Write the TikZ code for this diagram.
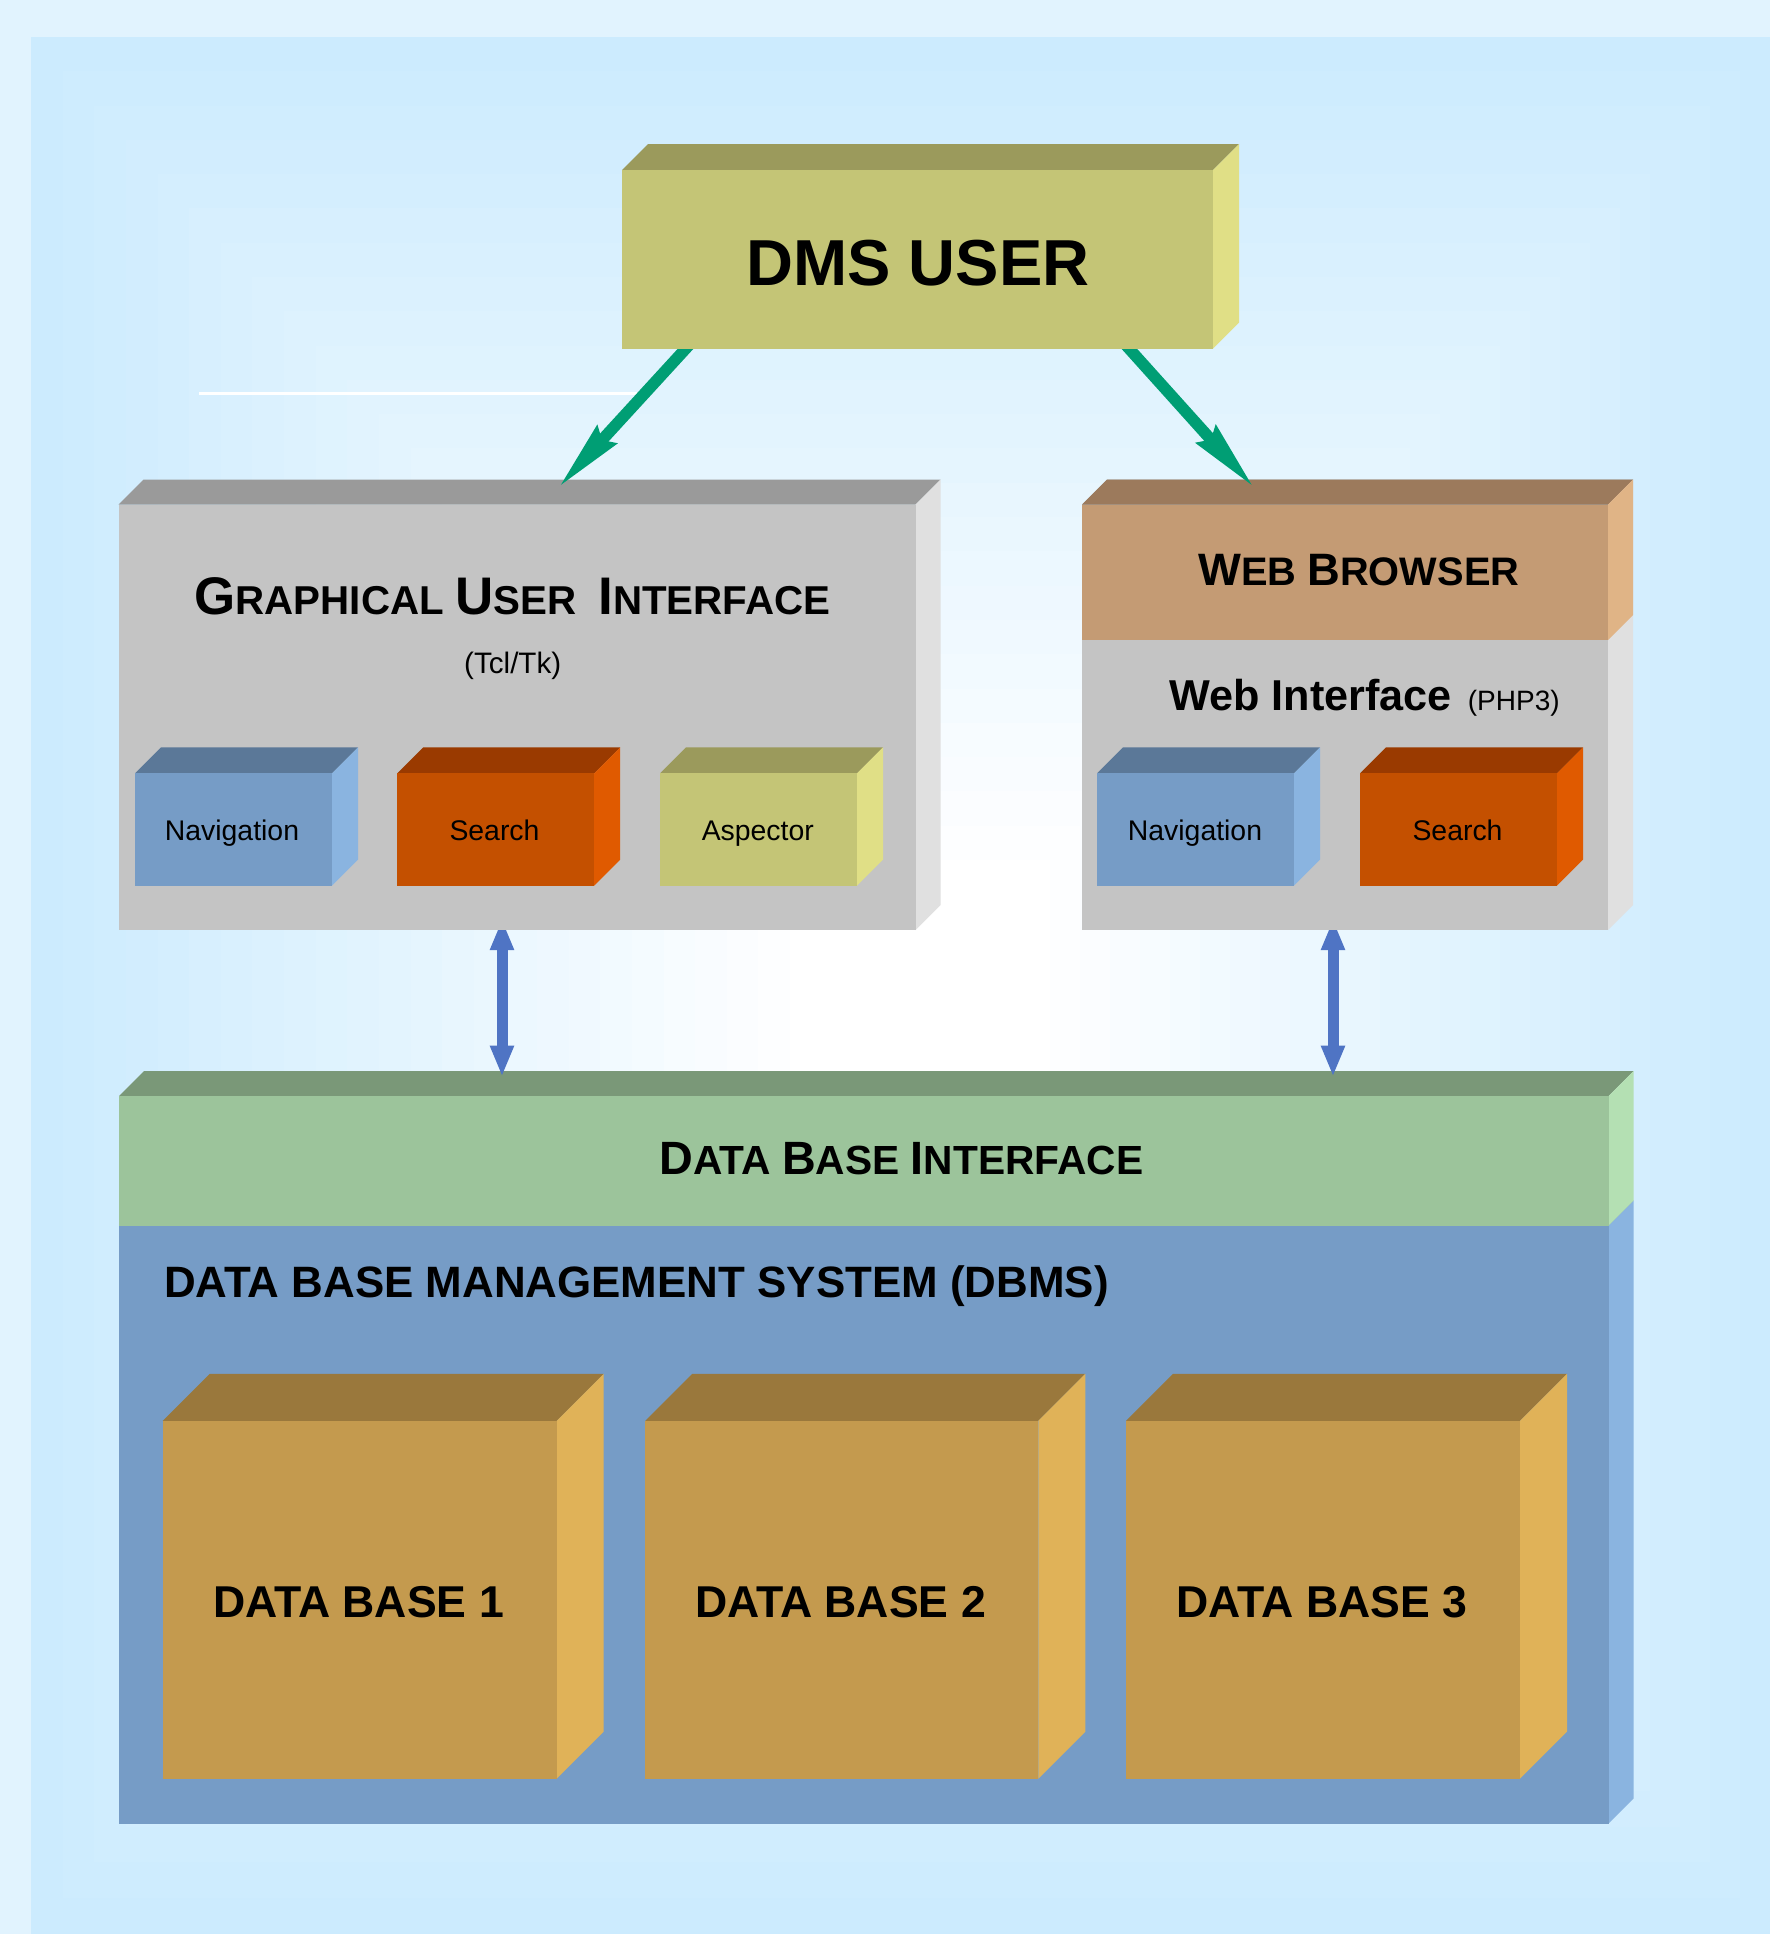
\documentclass[tikz,border=0pt]{standalone}
\usepackage{fontspec}
\setmainfont{Liberation Sans}
\usetikzlibrary{arrows.meta,fit,calc}

% background
\definecolor{bgout}{HTML}{E1F3FE}
\definecolor{bgin}{HTML}{CCEBFE}
% face colours: front / top / side
\definecolor{oliveF}{HTML}{C4C576}\definecolor{oliveT}{HTML}{9B9A5C}\definecolor{oliveS}{HTML}{E0DF86}
\definecolor{greyF}{HTML}{C4C4C4}\definecolor{greyT}{HTML}{9A9A9A}\definecolor{greyS}{HTML}{E0E0E0}
\definecolor{tanF}{HTML}{C49B74}\definecolor{tanT}{HTML}{9C7A5C}\definecolor{tanS}{HTML}{E0B486}
\definecolor{navF}{HTML}{769CC6}\definecolor{navT}{HTML}{5B7898}\definecolor{navS}{HTML}{8AB4E0}
\definecolor{orgF}{HTML}{C45000}\definecolor{orgT}{HTML}{9A3A00}\definecolor{orgS}{HTML}{E05A00}
\definecolor{grnF}{HTML}{9CC49B}\definecolor{grnT}{HTML}{7A9878}\definecolor{grnS}{HTML}{B4E0B3}
\definecolor{dbF}{HTML}{C49A4E}\definecolor{dbT}{HTML}{9A783C}\definecolor{dbS}{HTML}{E0B258}
% connectors
\definecolor{arrgreen}{HTML}{009E74}
\definecolor{arrblue}{HTML}{4F74C4}

\newcommand\fsz[1]{\fontsize{#1}{#1}\selectfont}

% \cuboid{name}{x1}{y1}{x2}{y2}{depth}{front}{top}{side}
\newcommand\cuboid[9]{%
  \fill[#8] (#2,#3) -- ({#2+#6},{#3-#6}) -- ({#4+#6},{#3-#6}) -- (#4,#3) -- cycle;
  \fill[#9] (#4,#3) -- ({#4+#6},{#3-#6}) -- ({#4+#6},{#5-#6}) -- (#4,#5) -- cycle;
  \node[fit={(#2,#3) (#4,#5)}, inner sep=0pt, outer sep=0pt, fill=#7] (#1) {};
}

\begin{document}
\begin{tikzpicture}[x=0.5pt,y=-0.5pt,
  lbl/.style={anchor=base, inner sep=0pt, text=black},
  garrow/.style={draw=arrgreen, line width=5.8pt,
    -{Stealth[length=35pt,width=12.5pt,inset=3pt]}},
  barrow/.style={draw=arrblue, line width=5.5pt,
    {Triangle[length=15.5pt,width=11pt]}-{Triangle[length=15.5pt,width=11pt]}}]

\useasboundingbox (0,0) rectangle (1770,1934);

% ---- background: pale frame and a rectangular glow towards the middle
\fill[bgout] (0,0) rectangle (1770,1934);
\foreach \i in {0,...,24}{
  \pgfmathsetmacro\p{100*\i/24}
  \pgfmathsetmacro\lx{31+31.625*\i}
  \pgfmathsetmacro\ty{37+34.29*\i}
  \pgfmathsetmacro\rx{1770-30*\i}
  \pgfmathsetmacro\by{1934-35.79*\i}
  \fill[white!\p!bgin] (\lx,\ty) rectangle (\rx,\by);
}

% thin white rule
\coordinate (rulea) at (199,393.3);
\coordinate (ruleb) at (645,393.3);
\draw[white, line width=1.5pt] (rulea) -- (ruleb);

% ---- data base layer
\cuboid{dbms}{119}{1225.7}{1608.5}{1823.7}{25}{navF}{navT}{navS}
\cuboid{dbi}{119}{1096}{1608.5}{1225.7}{25}{grnF}{grnT}{grnS}
\node[lbl] (dbilabel) at (901.4,1174.5)
  {\bfseries\fsz{23.35pt}D\fsz{20.35pt}ATA \fsz{23.35pt}B\fsz{20.35pt}ASE \fsz{23.35pt}I\fsz{20.35pt}NTERFACE};
\node[lbl, anchor=base west] (dbmslabel) at (163.7,1297)
  {\bfseries\fsz{21.95pt}DATA BASE MANAGEMENT SYSTEM (DBMS)};

\cuboid{dba}{162.7}{1420.8}{556.7}{1778.7}{47}{dbF}{dbT}{dbS}
\cuboid{dbb}{645.3}{1420.8}{1038.3}{1778.7}{47}{dbF}{dbT}{dbS}
\cuboid{dbc}{1126}{1420.8}{1520}{1778.7}{47}{dbF}{dbT}{dbS}
\node[lbl] (dbalabel) at (358.5,1617) {\bfseries\fsz{22.3pt}DATA BASE 1};
\node[lbl] (dbblabel) at (840.5,1617) {\bfseries\fsz{22.3pt}DATA BASE 2};
\node[lbl] (dbclabel) at (1322,1617) {\bfseries\fsz{22.3pt}DATA BASE 3};

% ---- front-end anchors for the two-way links (the boxes are drawn on top)
\coordinate (guibot) at (517,930);
\coordinate (webbot) at (1345,930);
\draw[barrow] ($(guibot)+(-15,-11)$) -- ($(dbi.north)+(-361.75,-19.3)$);
\draw[barrow] ($(webbot)+(-12,-11)$) -- ($(dbi.north)+(469.25,-19.3)$);

% ---- graphical user interface
\cuboid{gui}{118.5}{504.5}{915.5}{930}{25}{greyF}{greyT}{greyS}
\node[lbl] (guilabel) at (512.5,614.5)
  {\bfseries\fsz{26.45pt}G\fsz{20.15pt}RAPHICAL \fsz{26.45pt}U\fsz{20.15pt}SER\ \ \fsz{26.45pt}I\fsz{20.15pt}NTERFACE};
\node[lbl] (guisub) at (512.7,673) {\fsz{14.8pt}(Tcl/Tk)};

\cuboid{guinav}{135}{773.3}{332}{885.7}{26}{navF}{navT}{navS}
\cuboid{guisearch}{397.3}{773.3}{594.2}{885.7}{26}{orgF}{orgT}{orgS}
\cuboid{guiasp}{660}{773.3}{857}{885.7}{26}{oliveF}{oliveT}{oliveS}
\node[lbl] (guinavlabel) at (232,840) {\fsz{14.2pt}Navigation};
\node[lbl] (guisearchlabel) at (494.5,840) {\fsz{14.2pt}Search};
\node[lbl] (guiasplabel) at (757.8,840) {\fsz{14.2pt}Aspector};

% ---- web browser / web interface
\cuboid{webif}{1082}{504.5}{1608}{930}{25}{greyF}{greyT}{greyS}
\fill[tanT] (1082,504.5) -- (1107,479.5) -- (1633,479.5) -- (1608,504.5) -- cycle;
\fill[tanS] (1608,504.5) -- (1633,479.5) -- (1633,615) -- (1608,640) -- cycle;
\node[fit={(1082,504.5) (1608,640)}, inner sep=0pt, outer sep=0pt, fill=tanF] (browser) {};
\node[lbl] (browserlabel) at (1358.8,585)
  {\bfseries\fsz{22.7pt}W\fsz{19.9pt}EB \fsz{22.7pt}B\fsz{19.9pt}ROWSER};
\node[lbl, anchor=base west] (webiflabel) at (1169,710)
  {\bfseries\fsz{21.6pt}Web Interface\hspace{8pt}\mdseries\fsz{14pt}(PHP3)};

\cuboid{webnav}{1097}{773.3}{1294}{885.7}{26}{navF}{navT}{navS}
\cuboid{websearch}{1360}{773.3}{1557}{885.7}{26}{orgF}{orgT}{orgS}
\node[lbl] (webnavlabel) at (1195,840) {\fsz{14.2pt}Navigation};
\node[lbl] (websearchlabel) at (1457.5,840) {\fsz{14.2pt}Search};

% ---- user links (their tails disappear behind the user box)
\coordinate (dmsbotl) at (693,340.7);
\coordinate (dmsbotr) at (1122,340.7);
\draw[garrow] (dmsbotl) -- ($(gui.north west)+(440,-17)$);
\draw[garrow] (dmsbotr) -- ($(browser.north west)+(172,-17)$);

% ---- DMS user
\cuboid{dms}{622}{170}{1213}{348.7}{26}{oliveF}{oliveT}{oliveS}
\node[lbl] (dmslabel) at (918,285) {\bfseries\fsz{32.5pt}DMS USER};

\end{tikzpicture}
\end{document}
